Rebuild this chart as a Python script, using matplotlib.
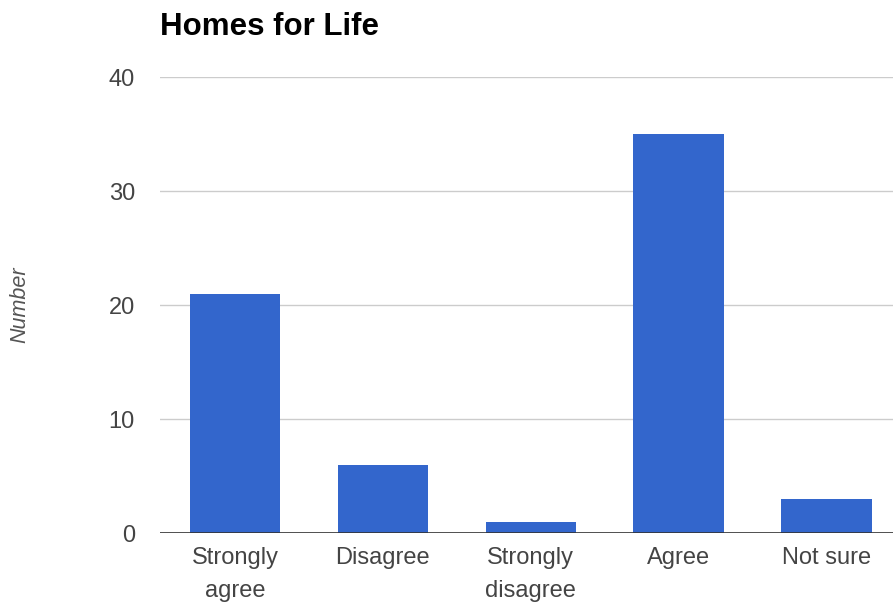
import matplotlib
matplotlib.use("Agg")
import matplotlib.pyplot as plt

# donnees du graphique
categories = ["Strongly\nagree", "Disagree", "Strongly\ndisagree", "Agree", "Not sure"]
values = [21, 6, 1, 35, 3]
y_ticks = [0, 10, 20, 30, 40]

plt.rcParams['font.family'] = ['Liberation Sans', 'DejaVu Sans']

fig = plt.figure(figsize=(8.93, 6.06), dpi=100)
ax = fig.add_axes([160 / 893, 1 - 533 / 606, 1 - 160 / 893, (533 - 77) / 606])

x = range(len(categories))
ax.bar(x, values, width=0.61, color='#3366CC', zorder=3)

ax.set_xlim(-0.507, 4.45)
ax.set_ylim(0, 40)
ax.set_yticks(y_ticks)
ax.set_xticks(list(x))
ax.set_xticklabels(categories, fontsize=17, color='#444444', linespacing=1.65)
ax.tick_params(axis='y', labelsize=17, labelcolor='#444444', length=0, pad=18)
ax.tick_params(axis='x', length=0, pad=10)

# grille horizontale
ax.grid(axis='y', color='#cccccc', linewidth=1, zorder=0)
ax.axhline(0, color='#333333', linewidth=1.2, zorder=4)
for s in ax.spines.values():
    s.set_visible(False)

fig.text(20 / 893, 1 - 305 / 606, 'Number', fontsize=15.5, style='italic', color='#555555',
         rotation=90, ha='center', va='center')
fig.text(160 / 893, 1 - 27 / 606, 'Homes for Life', fontsize=22.5, fontweight='bold',
         color='#000000', ha='left', va='center')

fig.savefig('out.png', dpi=100)
